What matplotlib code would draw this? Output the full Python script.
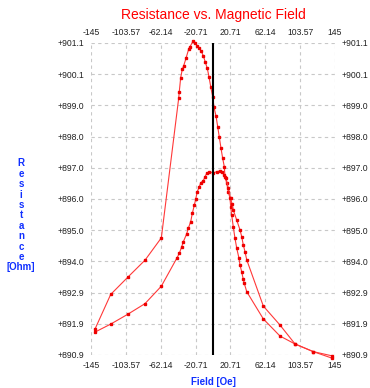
import matplotlib
matplotlib.use("Agg")
import matplotlib.pyplot as plt

# Curve with the tall peak
field_a = [-140.2, -121.6, -101.4, -80.8, -61.4, -40.8, -40.1, -38.4, -36.5, -34.8,
           -32.1, -28.9, -27.3, -23.4, -21.0, -18.7, -16.3, -13.9, -11.5, -9.2,
           -6.8, -4.8, -2.7, -0.4, 1.2, 3.6, 5.6, 7.5, 9.5, 11.5,
           13.4, 14.3, 16.3, 18.2, 20.2, 21.0, 22.2, 24.1, 26.1, 28.2,
           30.9, 32.1, 34.1, 36.0, 37.2, 40.1, 59.8, 79.6, 97.5, 119.2, 141.1]
res_a = [891.75, 892.88, 893.44, 894.00, 894.73, 899.29, 899.50, 899.97, 900.24, 900.36,
         900.60, 900.90, 900.98, 901.18, 901.09, 901.01, 900.93, 900.83, 900.68, 900.48,
         900.27, 900.00, 899.67, 899.34, 899.00, 898.71, 898.36, 898.02, 897.66, 897.33,
         897.06, 896.73, 896.51, 896.24, 896.02, 895.75, 895.48, 895.09, 894.72, 894.39,
         894.06, 893.84, 893.62, 893.37, 893.24, 892.97, 892.08, 891.52, 891.26, 891.01, 890.80]

# Curve with the small peak
field_b = [-140.2, -121.6, -101.4, -80.8, -61.4, -43.1, -40.1, -37.2, -35.3, -31.3,
           -29.4, -26.5, -24.6, -22.2, -20.6, -18.7, -16.3, -14.6, -11.5, -9.5,
           -7.5, -4.4, 0.4, 4.4, 8.3, 10.7, 13.1, 15.4, 18.2, 20.8,
           22.6, 24.1, 28.2, 32.1, 34.1, 36.0, 38.0, 40.1, 59.8, 79.6,
           97.5, 119.2, 141.8]
res_b = [891.65, 891.91, 892.23, 892.58, 893.15, 894.06, 894.22, 894.44, 894.60, 894.86,
         895.04, 895.26, 895.53, 895.80, 895.99, 896.24, 896.40, 896.53, 896.60, 896.73,
         896.84, 896.89, 896.86, 896.89, 896.92, 896.88, 896.79, 896.69, 896.36, 896.03,
         895.84, 895.64, 895.31, 894.99, 894.77, 894.50, 894.28, 894.01, 892.50, 891.88,
         891.26, 891.01, 890.87]

x_ticks = [-145, -103.57, -62.14, -20.71, 20.71, 62.14, 103.57, 145]
x_labels = ["-145", "-103.57", "-62.14", "-20.71", "20.71", "62.14", "103.57", "145"]
y_ticks = [890.9 + i * 1.02 for i in range(11)]
y_labels = ["+890.9", "+891.9", "+892.9", "+894.0", "+895.0", "+896.0",
            "+897.0", "+898.0", "+899.0", "+900.1", "+901.1"]

plt.rcParams['font.family'] = ['Liberation Sans', 'DejaVu Sans']

fig = plt.figure(figsize=(3.70, 3.88), dpi=100)
ax = fig.add_axes([91 / 370, 33 / 388, 244 / 370, 312 / 388])

for f, r in ((field_a, res_a), (field_b, res_b)):
    ax.plot(f, r, color='#ff3838', lw=0.8, marker='s', ms=1.6,
            mfc='#ee0000', mec='#ee0000', clip_on=False, zorder=3)

ax.axvline(0, color='black', lw=1.5, zorder=4)

ax.set_xlim(-145, 145)
ax.set_ylim(890.9, 901.1)
ax.set_xticks(x_ticks)
ax.set_xticklabels(x_labels)
ax.set_yticks(y_ticks)
ax.set_yticklabels(y_labels)
ax.tick_params(axis='both', length=0, labelsize=6.2, colors='#222222',
               top=True, labeltop=True, right=True, labelright=True)
ax.tick_params(axis='y', pad=5)
ax.tick_params(axis='x', pad=4)
for s in ax.spines.values():
    s.set_visible(False)
ax.grid(True, color='#c8c8c8', lw=0.8, ls=(0, (3, 3)))
ax.set_axisbelow(True)

fig.text(213 / 370, 1 - 15 / 388, "Resistance vs. Magnetic Field", color='red',
         fontsize=10, ha='center', va='center')
fig.text(213 / 370, 1 - 382 / 388, "Field [Oe]", color='#1030ff', fontsize=7,
         fontweight='bold', ha='center', va='center')
fig.text(21 / 370, 1 - 215.5 / 388, "\n".join(list("Resistance") + ["[Ohm]"]),
         color='#1030ff', fontsize=7, fontweight='bold', ha='center', va='center',
         multialignment='center', linespacing=1.05)

fig.savefig("out.png", dpi=100)
